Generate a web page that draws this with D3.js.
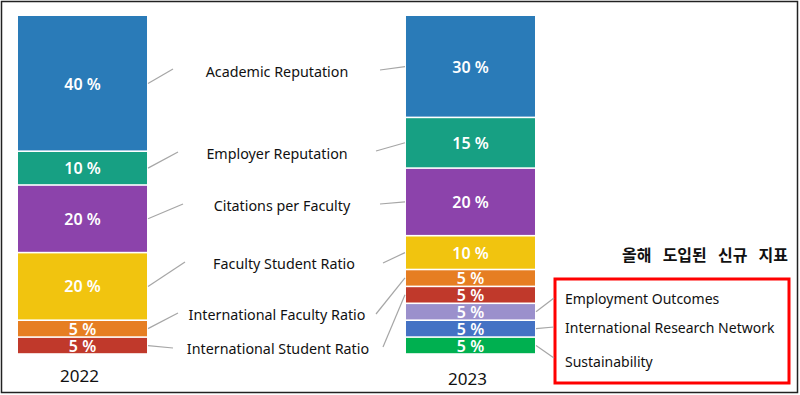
<!DOCTYPE html>
<html>
<head>
<meta charset="utf-8">
<script src="https://cdn.jsdelivr.net/npm/d3@7"></script>
<style>
  body { margin: 0; background: #fff; }
  text { font-family: "Noto Sans", "Noto Sans CJK KR", sans-serif; }
</style>
</head>
<body>
<div id="chart"></div>
<script>
var w = 800, h = 395;

// data
var years = ["2022", "2023"];
var categories = ["Academic Reputation", "Employer Reputation", "Citations per Faculty",
  "Faculty Student Ratio", "International Faculty Ratio", "International Student Ratio",
  "Employment Outcomes", "International Research Network", "Sustainability"];
var values2022 = [40, 10, 20, 20, 5, 5];
var values2023 = [30, 15, 20, 10, 5, 5, 5, 5, 5];
var colors = ["#2a7bb8", "#17a083", "#8c43ab", "#f1c40f", "#e67e22",
  "#c0392b", "#9b90cc", "#4472c4", "#00b050"];
var newTitle = "올해 도입된 신규 지표";

// layout of the middle labels (center x, center y)
var labelX = [277, 277, 282, 284, 277, 278];
var labelY = [71, 153, 205, 263, 314, 348];
// where the connector lines stop near each label
var leftEnd = [[173, 69], [178, 152], [183, 204], [185, 262], [178, 313], [173, 348]];
var rightEnd = [[380, 70], [376, 151], [380, 204], [383, 263], [376, 314], [383, 347]];
var legendY = [298, 327, 361];
var legendEnd = [[554, 298], [554, 327], [554, 358]];

var svg = d3.select("#chart").append("svg")
    .attr("width", w)
    .attr("height", h);

// outer frame
svg.append("rect")
    .attr("x", 1.5).attr("y", 1.5)
    .attr("width", 796).attr("height", 391)
    .attr("fill", "none")
    .attr("stroke", "#222")
    .attr("stroke-width", 1.5);

var x = d3.scaleBand().domain(years).range([18, 535]).paddingInner(0.6675).paddingOuter(0);
var y = d3.scaleLinear().domain([0, 100]).range([16, 354]);

function stack(vals) {
  var acc = 0;
  return vals.map(function (v, i) {
    var d = { i: i, v: v, y0: acc, y1: acc + v };
    acc += v;
    return d;
  });
}

var stacks = { "2022": stack(values2022), "2023": stack(values2023) };

years.forEach(function (yr) {
  var g = svg.append("g").attr("class", "bar_" + yr);
  g.selectAll("rect")
    .data(stacks[yr])
    .enter().append("rect")
    .attr("x", x(yr))
    .attr("y", function (d) { return y(d.y0) + (d.i > 0 ? 0.8 : 0); })
    .attr("width", x.bandwidth())
    .attr("height", function (d) { return y(d.y1) - y(d.y0) - (d.i > 0 ? 1.6 : 0.8); })
    .attr("fill", function (d) { return colors[d.i]; });

  g.selectAll("text")
    .data(stacks[yr])
    .enter().append("text")
    .attr("x", x(yr) + x.bandwidth() / 2)
    .attr("y", function (d) { return (y(d.y0) + y(d.y1)) / 2; })
    .attr("text-anchor", "middle")
    .attr("dominant-baseline", "central")
    .attr("fill", "#fff")
    .attr("font-size", 16)
    .attr("font-weight", 600)
    .text(function (d) { return d.v + " %"; });

  svg.append("text")
    .attr("x", x(yr) + x.bandwidth() / 2 - 3)
    .attr("y", yr === "2022" ? 375 : 378)
    .attr("text-anchor", "middle")
    .attr("dominant-baseline", "central")
    .attr("font-size", 17)
    .attr("fill", "#111")
    .text(yr);
});

function mid(yr, i) {
  var d = stacks[yr][i];
  return (y(d.y0) + y(d.y1)) / 2;
}

var lineColor = "#a6a6a6";

// middle labels and connectors
svg.selectAll(".mlabel")
  .data(categories.slice(0, 6))
  .enter().append("text")
  .attr("class", "mlabel")
  .attr("x", function (d, i) { return labelX[i]; })
  .attr("y", function (d, i) { return labelY[i]; })
  .attr("text-anchor", "middle")
  .attr("dominant-baseline", "central")
  .attr("font-size", 14.3)
  .attr("fill", "#111")
  .text(function (d) { return d; });

categories.slice(0, 6).forEach(function (c, i) {
  svg.append("line")
    .attr("x1", x("2022") + x.bandwidth() + 1).attr("y1", mid("2022", i))
    .attr("x2", leftEnd[i][0]).attr("y2", leftEnd[i][1])
    .attr("stroke", lineColor).attr("stroke-width", 1.2);
  svg.append("line")
    .attr("x1", rightEnd[i][0]).attr("y1", rightEnd[i][1])
    .attr("x2", x("2023") - 1).attr("y2", mid("2023", i))
    .attr("stroke", lineColor).attr("stroke-width", 1.2);
});

// new indicators box
svg.append("rect")
    .attr("x", 555).attr("y", 279)
    .attr("width", 234).attr("height", 104)
    .attr("fill", "none")
    .attr("stroke", "#ff0000")
    .attr("stroke-width", 3);

svg.append("text")
    .attr("x", 788).attr("y", 255)
    .attr("text-anchor", "end")
    .attr("dominant-baseline", "central")
    .attr("font-size", 16)
    .attr("font-weight", "bold")
    .attr("word-spacing", 7)
    .attr("fill", "#111")
    .text(newTitle);

categories.slice(6).forEach(function (c, j) {
  var i = j + 6;
  svg.append("text")
    .attr("x", 565).attr("y", legendY[j])
    .attr("dominant-baseline", "central")
    .attr("font-size", 14)
    .attr("fill", "#111")
    .text(c);
  svg.append("line")
    .attr("x1", x("2023") + x.bandwidth() + 1).attr("y1", mid("2023", i))
    .attr("x2", legendEnd[j][0]).attr("y2", legendEnd[j][1])
    .attr("stroke", lineColor).attr("stroke-width", 1.2);
});
</script>
</body>
</html>
